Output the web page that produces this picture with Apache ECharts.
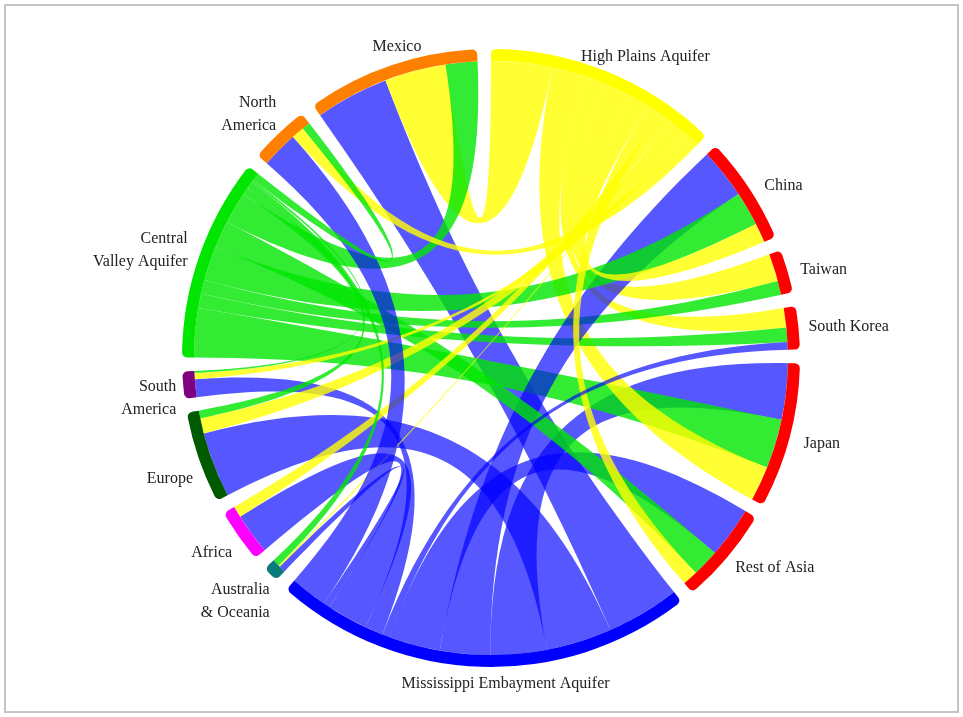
<!DOCTYPE html>
<html>
<head>
<meta charset="utf-8">
<title>Groundwater trade chord</title>
<script src="https://cdn.jsdelivr.net/npm/echarts@6.0.0/dist/echarts.min.js"></script>
<style>
  html, body { margin: 0; padding: 0; background: #fff; }
  #main { width: 963px; height: 717px; }
</style>
</head>
<body>
<div id="main"></div>
<script>
// nodes, clockwise from the top
var nodeNames = ['High Plains Aquifer', 'China', 'Taiwan', 'South Korea', 'Japan', 'Rest of Asia',
  'Mississippi Embayment Aquifer', 'Australia & Oceania', 'Africa', 'Europe', 'South America',
  'Central Valley Aquifer', 'North America', 'Mexico'];
var nodeLabels = ['High Plains Aquifer', 'China', 'Taiwan', 'South Korea', 'Japan', 'Rest of Asia',
  'Mississippi Embayment Aquifer', 'Australia\n& Oceania', 'Africa', 'Europe', 'South\nAmerica',
  'Central\nValley Aquifer', 'North\nAmerica', 'Mexico'];
var nodeColors = ['#ffff00', '#ff0000', '#ff0000', '#ff0000', '#ff0000', '#ff0000',
  '#0000ff', '#0a7a7a', '#ff00ff', '#005a00', '#800080',
  '#00e600', '#ff8000', '#ff8000'];
// nudges so the names sit where the original put them
var labelShift = [[-29, 4], [8, 13], [5, 13], [2, 12], [6, -6], [2, -6],
  [128, -3], [5, -2], [0, 0], [2, 7], [1, -11],
  [-4, 20], [3, 10], [33, 0]];
// ribbon opacity per exporting aquifer
var ribbonOpacity = {
  'High Plains Aquifer': 0.8,
  'Mississippi Embayment Aquifer': 0.66,
  'Central Valley Aquifer': 0.8
};

// links (order matters: it sets where each ribbon sits on its arc)
var linkSource = ['Mississippi Embayment Aquifer', 'High Plains Aquifer', 'Mississippi Embayment Aquifer',
  'Mississippi Embayment Aquifer', 'Central Valley Aquifer', 'High Plains Aquifer', 'High Plains Aquifer',
  'Central Valley Aquifer', 'High Plains Aquifer', 'Central Valley Aquifer', 'Mississippi Embayment Aquifer',
  'Central Valley Aquifer', 'High Plains Aquifer', 'Mississippi Embayment Aquifer', 'Central Valley Aquifer',
  'High Plains Aquifer', 'Mississippi Embayment Aquifer', 'Central Valley Aquifer', 'Mississippi Embayment Aquifer',
  'Mississippi Embayment Aquifer', 'High Plains Aquifer', 'Mississippi Embayment Aquifer', 'High Plains Aquifer',
  'High Plains Aquifer', 'Central Valley Aquifer', 'Central Valley Aquifer', 'High Plains Aquifer',
  'Central Valley Aquifer', 'Mississippi Embayment Aquifer', 'High Plains Aquifer', 'Central Valley Aquifer'];
var linkTarget = ['Mexico', 'Mexico', 'Europe',
  'Japan', 'Japan', 'Japan', 'South Korea',
  'South Korea', 'Taiwan', 'Taiwan', 'China',
  'China', 'China', 'Rest of Asia', 'Rest of Asia',
  'Rest of Asia', 'South Korea', 'Mexico', 'South America',
  'Africa', 'Africa', 'Australia & Oceania', 'Australia & Oceania',
  'Europe', 'Europe', 'Australia & Oceania', 'South America',
  'South America', 'North America', 'North America', 'North America'];
var linkValue = [14.3, 12, 12.8,
  11, 9.6, 6.8, 3.8,
  2.8, 5.4, 2.7, 9.8,
  6.7, 3.8, 10, 5.3,
  3, 1.5, 6.2, 3.5,
  8, 2.2, 1.3, 0.3,
  3, 1.5, 1.4, 1.2,
  0.4, 7.2, 2.5, 1.6];

var chart = echarts.init(document.getElementById('main'));

var data = nodeNames.map(function (n, i) {
  return {
    name: n,
    itemStyle: { color: nodeColors[i] },
    label: { formatter: nodeLabels[i] }
  };
});
var links = linkSource.map(function (s, i) {
  return {
    source: s,
    target: linkTarget[i],
    value: linkValue[i],
    lineStyle: { opacity: ribbonOpacity[s] }
  };
});

chart.setOption({
  animation: false,
  backgroundColor: '#fff',
  graphic: [{
    type: 'rect',
    shape: { x: 5, y: 5, width: 953, height: 707 },
    style: { fill: null, stroke: '#c4c4c4', lineWidth: 2 }
  }],
  series: [{
    type: 'chord',
    center: [491, 358],
    radius: [297, 309],
    startAngle: 90,
    clockwise: true,
    padAngle: 2.6,
    minAngle: 0,
    itemStyle: { borderWidth: 0 },
    lineStyle: {
      color: 'source',
      opacity: 0.7,
      borderColor: 'rgba(90,90,60,0.45)',
      borderWidth: 0.7
    },
    label: {
      show: true,
      position: 'outside',
      distance: 8,
      fontFamily: 'Liberation Serif',
      fontSize: 16,
      lineHeight: 23,
      color: '#222'
    },
    labelLayout: function (params) {
      var s = labelShift[params.dataIndex];
      if (!s) return {};
      return { dx: s[0], dy: s[1] };
    },
    data: data,
    links: links
  }]
});
</script>
</body>
</html>
